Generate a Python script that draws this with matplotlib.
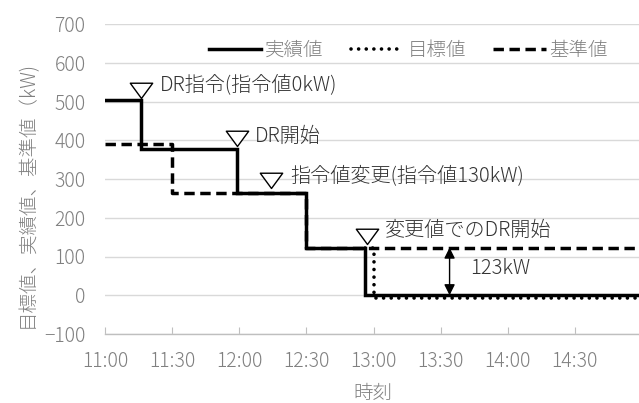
import matplotlib
matplotlib.use("Agg")
import matplotlib.pyplot as plt
import pandas as pd
from matplotlib.path import Path

plt.rcParams['font.family'] = ['Noto Sans CJK JP', 'DejaVu Sans']
plt.rcParams['font.weight'] = 'light'

DAY = "2020-01-01 "

# --- data -------------------------------------------------------------
actual_times = ["11:00", "11:16", "11:59", "12:30", "12:56", "15:00"]
actual_values = [505, 378, 265, 123, 0, 0]

baseline_times = ["11:00", "11:30", "12:30", "15:00"]
baseline_values = [390, 265, 123, 123]

target_times = ["12:56", "13:00", "15:00"]
target_values = [123, -6, -6]

series_names = ["実績値", "目標値", "基準値"]

x_tick_labels = ["11:00", "11:30", "12:00", "12:30", "13:00", "13:30", "14:00", "14:30"]
y_ticks = [-100, 0, 100, 200, 300, 400, 500, 600, 700]

# event markers (apex time, apex value) and their captions
event_times = ["11:16", "11:59", "12:14", "12:57"]
event_values = [510, 386, 277, 132]
event_text_times = ["11:24:30", "12:07:00", "12:22:40", "13:05:00"]
event_text_values = [544, 409, 309, 168]
event_labels = ["DR指令(指令値0kW)", "DR開始", "指令値変更(指令値130kW)", "変更値でのDR開始"]

gap_time = "13:34"
gap_value = 123
gap_label = "123kW"
gap_label_time = "13:43"
gap_label_value = 68


def to_dt(values):
    return pd.to_datetime([DAY + v for v in values], format="mixed")


# --- figure -----------------------------------------------------------
fig = plt.figure(figsize=(6.39, 4.03), dpi=100)
ax = fig.add_axes([105 / 639, 1 - 334 / 403, 537 / 639, 310 / 403])

tick_grey = "#808080"
text_dark = "#333333"

ax.plot(to_dt(actual_times), actual_values, drawstyle="steps-post",
        color="black", lw=2.5, solid_joinstyle="miter", label=series_names[0], zorder=4)
ax.plot(to_dt(target_times), target_values, drawstyle="steps-post",
        color="black", lw=2.6, linestyle=(0, (0.01, 2.1)), dash_capstyle="round",
        label=series_names[1], zorder=5)
ax.plot(to_dt(baseline_times), baseline_values, drawstyle="steps-post",
        color="black", lw=2.5, linestyle=(0, (3.0, 1.6)), label=series_names[2], zorder=3)

# open down-pointing triangles with the apex at the anchor point
tri = Path([(-11, 15), (11, 15), (0, 0), (-11, 15)],
           [Path.MOVETO, Path.LINETO, Path.LINETO, Path.CLOSEPOLY])
ax.plot(to_dt(event_times), event_values, linestyle="none", marker=tri,
        markersize=22, markerfacecolor="white", markeredgecolor="black",
        markeredgewidth=1.0, zorder=6)
for t, v, s in zip(to_dt(event_text_times), event_text_values, event_labels):
    ax.text(t, v, s, fontsize=14.5, color=text_dark, ha="left", va="center", zorder=7)

# double-headed arrow showing the reduction
gt = to_dt([gap_time])[0]
ax.annotate("", xy=(gt, 0), xytext=(gt, gap_value),
            arrowprops=dict(arrowstyle="<|-|>", color="black", lw=1.0,
                            mutation_scale=16, shrinkA=0, shrinkB=0), zorder=6)
ax.text(to_dt([gap_label_time])[0], gap_label_value, gap_label, fontsize=14.5,
        color=text_dark, ha="left", va="center")

# axes styling
ax.set_xlim(to_dt(["11:00"])[0], to_dt(["15:00"])[0])
ax.set_ylim(-100, 700)
ax.set_yticks(y_ticks)
ax.set_xticks(to_dt(x_tick_labels))
ax.set_xticklabels(x_tick_labels)
ax.grid(axis="y", color="#d9d9d9", lw=1.0)
ax.set_axisbelow(True)
for side in ["top", "right", "left"]:
    ax.spines[side].set_visible(False)
ax.spines["bottom"].set_color("#bfbfbf")
ax.spines["bottom"].set_linewidth(1.0)
ax.tick_params(axis="y", length=0, pad=14, labelsize=14, labelcolor=tick_grey)
ax.tick_params(axis="x", direction="in", length=5, color="#bfbfbf", pad=12,
               labelsize=14, labelcolor=tick_grey)

leg = ax.legend(loc="center", bbox_to_anchor=(0.565, 0.914), ncol=3, frameon=False,
                fontsize=14, handlelength=2.7, handletextpad=0.2, columnspacing=1.4,
                labelcolor=tick_grey)

fig.text(27 / 639, 1 - 195 / 403, "目標値、実績値、基準値（kW)", rotation=90,
         fontsize=14, color=tick_grey, ha="center", va="center")
fig.text(373 / 639, 1 - 394 / 403, "時刻", fontsize=14, color=tick_grey,
         ha="center", va="center")

fig.savefig("out.png", dpi=100)
